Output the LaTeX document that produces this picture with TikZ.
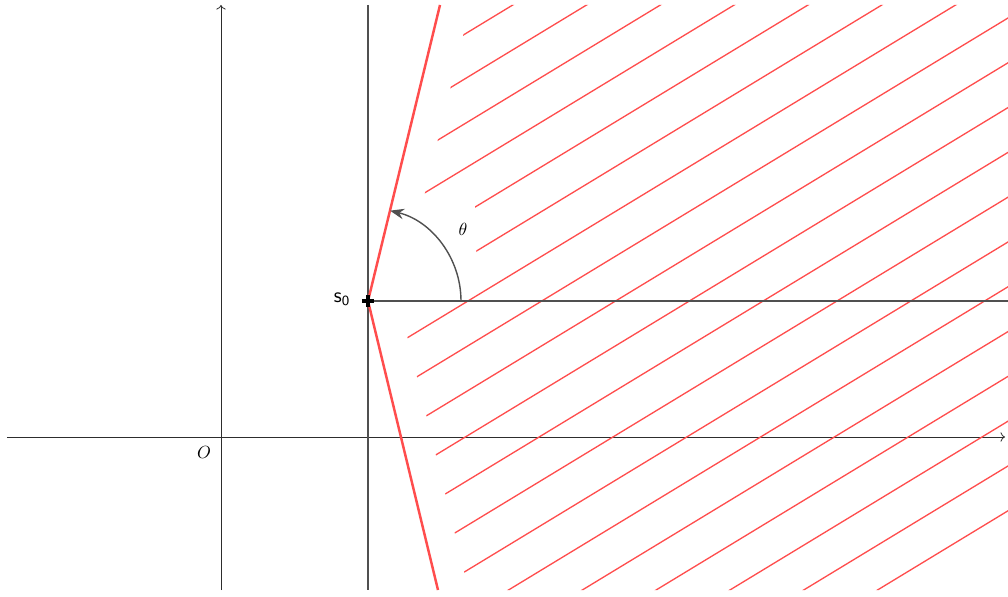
\documentclass[tikz,border=0pt]{standalone}
\usepackage{amsmath,amssymb}
\usetikzlibrary{arrows.meta}

\definecolor{hatchred}{RGB}{255,77,77}
\definecolor{axisgray}{RGB}{45,45,45}
\definecolor{linegray}{RGB}{80,80,80}

\begin{document}
\begin{tikzpicture}
  \useasboundingbox (-4.42,-3.18) rectangle (15.74,8.74);
  \coordinate (O) at (0,0);
  \coordinate (s0) at (2.94,2.72);
  \coordinate (rtop) at (4.38,8.64);
  \coordinate (rbot) at (4.34,-3.06);
  % axes
  \draw[axisgray,line width=0.45pt,->] (-4.28,0)--(15.68,0);
  \draw[axisgray,line width=0.45pt,->] (0,-3.06)--(0,8.64);
  \node (Olab) at (-0.34,-0.3) {$O$};
  % hatching
  \begin{scope}
    \clip (3.552,2.72)--(4.8,2.72)--(5.11,3.72)--(5.08,4.68)--(4.029,4.68)
      --(4.992,8.64)--(15.74,8.64)--(15.74,-3.06)--(4.952,-3.06)--cycle;
    \foreach \k in {0,...,18}
      \draw[hatchred,line width=0.75pt] (3,{0.607*3+5.098-0.896*\k})--(15.8,{0.607*15.8+5.098-0.896*\k});
  \end{scope}
  % thick lines
  \draw[linegray,line width=1.7pt] (2.94,8.64)--(2.94,-3.06);
  \draw[linegray,line width=1.7pt] (s0)--(15.74,2.72);
  \draw[hatchred,line width=1.4pt] (s0)--(rtop);
  \draw[hatchred,line width=1.4pt] (s0)--(rbot);
  \draw[black,line width=1.8pt] ([xshift=-0.12cm]s0)--([xshift=0.12cm]s0);
  \draw[black,line width=1.8pt] ([yshift=-0.12cm]s0)--([yshift=0.12cm]s0);
  \node (s0lab) at (2.42,2.76) {\large$\mathsf{s}_{\mathsf{0}}$};
  % angle
  \draw[linegray,line width=0.8pt,-{Stealth[length=8pt,width=6pt]}] ([xshift=1.86cm]s0) arc[start angle=0,end angle=76.3,radius=1.86];
  \node (thetalab) at (4.84,4.16) {$\theta$};
\end{tikzpicture}
\end{document}
